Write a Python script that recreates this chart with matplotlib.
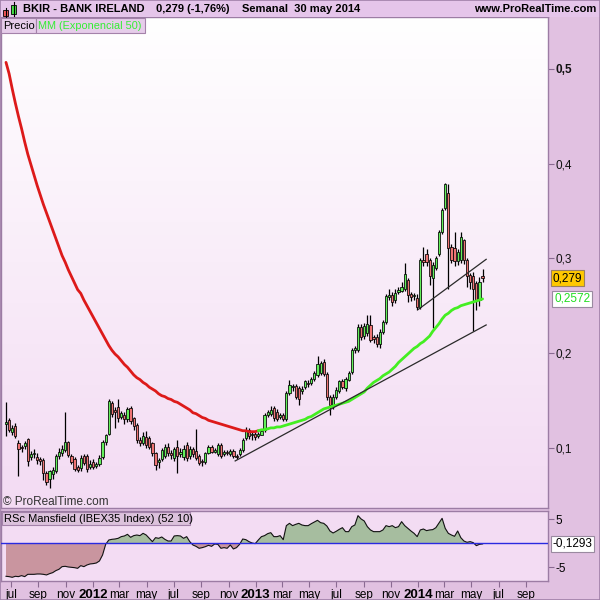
import numpy as np
import pandas as pd
import matplotlib
matplotlib.use("Agg")
import matplotlib.pyplot as plt
import matplotlib.dates as mdates
from matplotlib.patches import Rectangle
from matplotlib.colors import LinearSegmentedColormap

plt.rcParams['font.family'] = ['Liberation Sans', 'DejaVu Sans']

# ---------------- data (weekly candles, BKIR) ----------------
opens = [.125, .129, .117, .123, .105, .101, .102, .109, .090, .093,
         .090, .088, .087, .073, .067, .072, .075, .091, .094, .098,
         .106, .091, .088, .080, .079, .091, .091, .080, .085, .081,
         .083, .090, .106, .115, .147, .140, .143, .133, .135, .130,
         .142, .131, .124, .108, .105, .111, .110, .105, .094, .085,
         .088, .091, .101, .095, .089, .101, .093, .090, .103, .091,
         .099, .097, .091, .086, .085, .095, .101, .096, .093, .103,
         .093, .096, .093, .097, .091, .093, .098, .110, .119, .113,
         .115, .112, .114, .119, .135, .136, .142, .138, .133, .135,
         .130, .158, .164, .165, .163, .160, .164, .168, .168, .173,
         .177, .179, .191, .178, .154, .145, .154, .160, .171, .163,
         .172, .180, .203, .203, .228, .218, .221, .230, .217, .217,
         .210, .222, .233, .259, .261, .256, .265, .266, .268, .277,
         .262, .260, .258, .249, .298, .305, .298, .279, .290, .305,
         .328, .353, .369, .312, .311, .297, .298, .319, .298, .282,
         .281, .274, .256, .281]
highs = [.148, .131, .124, .126, .108, .103, .107, .110, .097, .099,
         .094, .090, .089, .075, .077, .080, .093, .100, .103, .138,
         .107, .093, .090, .082, .092, .093, .093, .087, .088, .085,
         .092, .108, .115, .151, .149, .143, .151, .139, .138, .143,
         .144, .133, .126, .111, .117, .118, .112, .106, .096, .089,
         .100, .104, .105, .098, .101, .108, .100, .103, .106, .102,
         .101, .120, .093, .088, .096, .103, .103, .100, .105, .105,
         .098, .098, .099, .099, .093, .100, .110, .122, .121, .117,
         .117, .117, .120, .137, .140, .144, .144, .141, .137, .137,
         .160, .172, .167, .167, .165, .165, .172, .172, .175, .181,
         .197, .192, .194, .180, .156, .157, .164, .172, .173, .175,
         .181, .205, .208, .231, .231, .232, .240, .240, .219, .220,
         .225, .235, .262, .268, .264, .268, .270, .275, .295, .279,
         .264, .263, .262, .300, .312, .310, .300, .296, .303, .330,
         .353, .380, .379, .315, .328, .310, .328, .320, .300, .285,
         .286, .276, .280, .289]
lows = [.112, .117, .113, .110, .070, .096, .099, .081, .087, .089,
        .083, .082, .066, .061, .058, .067, .073, .088, .091, .096,
        .090, .083, .076, .074, .076, .082, .074, .078, .078, .079,
        .081, .088, .103, .113, .133, .121, .127, .130, .125, .127,
        .125, .119, .105, .102, .103, .100, .099, .091, .077, .079,
        .086, .089, .091, .088, .086, .073, .090, .087, .086, .088,
        .090, .087, .082, .081, .083, .093, .094, .094, .091, .089,
        .091, .092, .091, .089, .088, .091, .096, .108, .109, .108,
        .108, .110, .113, .117, .133, .134, .128, .128, .130, .128,
        .128, .156, .160, .151, .145, .157, .162, .164, .166, .171,
        .175, .177, .176, .150, .135, .141, .151, .158, .162, .160,
        .170, .178, .200, .201, .214, .215, .218, .212, .211, .206,
        .205, .220, .231, .256, .250, .253, .262, .264, .266, .254,
        .255, .256, .246, .247, .292, .292, .272, .226, .288, .302,
        .326, .351, .268, .295, .292, .293, .295, .294, .270, .268,
        .223, .245, .250, .275]
closes = [.127, .119, .121, .112, .099, .100, .105, .086, .093, .095,
          .087, .086, .073, .064, .075, .077, .091, .096, .099, .106,
          .092, .085, .078, .077, .089, .084, .078, .083, .080, .083,
          .089, .106, .113, .149, .136, .138, .131, .137, .130, .141,
          .128, .123, .108, .105, .112, .103, .101, .094, .082, .087,
          .098, .101, .094, .092, .099, .091, .096, .099, .089, .099,
          .093, .089, .084, .085, .094, .101, .096, .098, .103, .091,
          .096, .094, .097, .091, .090, .098, .108, .119, .112, .115,
          .111, .115, .118, .135, .138, .140, .131, .130, .135, .130,
          .158, .166, .165, .154, .152, .162, .170, .167, .173, .179,
          .188, .189, .178, .154, .145, .154, .161, .170, .164, .173,
          .179, .203, .205, .228, .217, .229, .231, .214, .215, .210,
          .222, .233, .260, .261, .254, .263, .266, .270, .284, .261,
          .259, .261, .249, .298, .296, .296, .281, .293, .300, .328,
          .351, .379, .311, .298, .297, .307, .323, .298, .281, .275,
          .268, .256, .275, .279]
ema50 = [.507, .495, .479, .464, .450, .437, .423, .410, .399, .388,
         .377, .367, .357, .348, .339, .330, .321, .312, .303, .296,
         .288, .281, .274, .267, .263, .256, .250, .244, .238, .232,
         .226, .220, .214, .208, .203, .199, .196, .192, .188, .185,
         .181, .177, .174, .172, .169, .167, .164, .162, .160, .157,
         .155, .154, .152, .151, .149, .148, .146, .144, .142, .140,
         .137, .136, .134, .132, .131, .129, .128, .127, .126, .125,
         .124, .123, .122, .121, .120, .119, .118, .118, .117, .117,
         .117, .118, .119, .119, .120, .121, .121, .122, .122, .123,
         .124, .125, .126, .127, .128, .129, .130, .132, .133, .135,
         .137, .139, .141, .142, .143, .144, .145, .146, .147, .148,
         .149, .151, .153, .155, .157, .159, .163, .166, .169, .171,
         .173, .176, .178, .180, .183, .186, .190, .193, .196, .199,
         .202, .205, .207, .210, .212, .215, .218, .223, .227, .231,
         .236, .240, .242, .245, .247, .248, .250, .251, .252, .253,
         .254, .255, .256, .2572]
rsc = [-6.87, -6.94, -7.08, -6.87, -6.94, -6.73, -6.94, -6.46, -6.46, -6.46,
       -6.39, -6.39, -6.46, -6.59, -6.32, -6.11, -5.69, -5.41, -4.86, -4.79,
       -4.93, -5.00, -5.07, -5.21, -4.65, -4.86, -4.51, -4.30, -4.23, -4.10,
       -3.68, -2.43, -0.21, 0.69, 0.83, 0.90, 1.04, 1.39, 1.53, 1.87,
       1.25, 1.60, 1.73, 1.60, 2.08, 1.73, 1.04, 0.35, 1.18, 1.04,
       1.32, 0.83, 0.48, 0.48, 1.53, 1.60, 1.53, 1.04, 1.39, 0.35,
       -0.35, -0.63, -1.04, -0.90, -0.70, -0.42, -0.63, -0.14, -0.21, -1.04,
       -0.90, -1.04, -0.35, -1.18, -0.90, -0.21, 0.90, 0.76, 0.35, 0.07,
       -0.07, 0.69, 1.39, 1.60, 2.01, 2.22, 1.39, 1.39, 1.60, 0.76,
       3.68, 4.16, 3.68, 3.95, 4.16, 3.82, 3.68, 3.68, 4.09, 4.44,
       4.79, 4.30, 4.16, 3.61, 2.57, 2.15, 2.50, 2.91, 3.26, 2.43,
       2.43, 3.47, 3.82, 5.76, 5.07, 4.65, 3.47, 2.78, 2.43, 2.43,
       2.43, 2.78, 3.68, 3.47, 3.68, 3.26, 3.47, 4.51, 3.68, 3.12,
       2.57, 2.08, 1.39, 2.78, 2.98, 2.64, 2.78, 2.85, 3.26, 4.23,
       5.20, 3.12, 2.08, 1.73, 1.46, 2.57, 1.18, 0.48, 0.21, 0.35,
       0.14, -0.49, -0.21, -0.1293]
trend_low_dates = ['2012-11-16', '2014-06-03']
trend_low_vals = [0.0861, 0.2297]
trend_high_dates = ['2014-01-02', '2014-06-03']
trend_high_vals = [0.2463, 0.2990]
price_ticks = [0.1, 0.2, 0.3, 0.4, 0.5]
price_tick_labels = ['0,1', '0,2', '0,3', '0,4', '0,5']
rsc_ticks = [-5, 5]
rsc_tick_labels = ['-5', '5']
month_names = {3: 'mar', 5: 'may', 7: 'jul', 9: 'sep', 11: 'nov'}

dates = pd.date_range(end='2014-05-26', periods=len(closes), freq='7D')

# ---------------- figure ----------------
BG = '#e1c1e1'
SPINE = '#9c7ca4'
fig = plt.figure(figsize=(6, 6), dpi=100, facecolor=BG)


def fx(px):
    return px / 600.0


def fy(py):
    return 1 - py / 600.0


ax = fig.add_axes([fx(1), fy(508), fx(547), (508 - 17) / 600.0])
axs = fig.add_axes([fx(1), fy(581), fx(547), 70 / 600.0], sharex=ax)

dn = mdates.date2num(dates)
o = np.array(opens); h = np.array(highs); l = np.array(lows); c = np.array(closes)
d0 = dn[0]
PXD = 0.445
xmin = d0 - 5.0 / PXD
xmax = xmin + 547 / PXD

# gradient background
cmap = LinearSegmentedColormap.from_list('bg', ['#ffffff', '#f3dbf3'])
grad = np.linspace(0, 1, 256).reshape(-1, 1)
ax.imshow(grad, extent=[0, 1, 0, 1], transform=ax.transAxes, aspect='auto',
          cmap=cmap, zorder=0)
axs.set_facecolor('#f3dcf3')

# candles
up = c >= o
ax.vlines(dn, l, h, color='black', lw=0.9, zorder=3)
bb = np.minimum(o, c)
bh = np.maximum(np.abs(c - o), 0.0012)
ax.bar(dn[up], bh[up], bottom=bb[up], width=5.0, color='#62f05a',
       edgecolor='black', linewidth=0.55, zorder=4)
ax.bar(dn[~up], bh[~up], bottom=bb[~up], width=5.0, color='#ee7474',
       edgecolor='black', linewidth=0.55, zorder=4)

# EMA
ema = np.array(ema50)
k = 81
ax.plot(dn[:k + 1], ema[:k + 1], color='#dd1a1a', lw=2.0, zorder=5,
        solid_capstyle='round')
ax.plot(dn[k:], ema[k:], color='#44ee22', lw=2.0, zorder=5,
        solid_capstyle='round')

# trend lines
ax.plot(mdates.date2num(pd.to_datetime(trend_low_dates)), trend_low_vals,
        color='#2a2a2a', lw=0.9, zorder=6)
ax.plot(mdates.date2num(pd.to_datetime(trend_high_dates)), trend_high_vals,
        color='#2a2a2a', lw=0.9, zorder=6)

ax.set_xlim(xmin, xmax)
ax.set_ylim(0.0364, 0.5549)

# right price axis
ax.yaxis.tick_right()
ax.set_yticks(price_ticks)
ax.set_yticklabels(price_tick_labels)
ax.tick_params(axis='y', direction='out', length=4, width=0.8, color='#8a6a92',
               labelsize=8.5, pad=1.5, labelcolor='#111111')
for t in ax.get_yticklabels():
    if t.get_text() == '0,5':
        t.set_fontweight('bold')
ax.tick_params(axis='x', bottom=False, labelbottom=False)
for s in ax.spines.values():
    s.set_color(SPINE)
    s.set_linewidth(1.0)

ytr = ax.get_yaxis_transform()
ax.text(1.008, 0.279, '0,279', transform=ytr, ha='left', va='center',
        fontsize=8.5, color='black', zorder=10, clip_on=False,
        bbox=dict(boxstyle='square,pad=0.15', fc='#ffc800', ec='#9a8060', lw=0.8))
ax.text(1.011, 0.2572, '0,2572', transform=ytr, ha='left', va='center',
        fontsize=8.5, color='#22dd22', zorder=10, clip_on=False,
        bbox=dict(boxstyle='square,pad=0.15', fc='white', ec='#9a8aa0', lw=0.8))

# RSc panel
r = np.array(rsc)
axs.fill_between(dn, r, 0, where=r >= 0, interpolate=True, color='#a6bd9f',
                 zorder=2, lw=0)
axs.fill_between(dn, r, 0, where=r <= 0, interpolate=True, color='#c9959f',
                 zorder=2, lw=0)
axs.plot(dn, r, color='#111111', lw=0.8, zorder=3)
axs.axhline(0, color='#2a2ae0', lw=1.0, zorder=4)
axs.set_ylim(-7.85, 6.73)
axs.yaxis.tick_right()
axs.set_yticks(rsc_ticks)
axs.set_yticklabels(rsc_tick_labels)
axs.tick_params(axis='y', direction='out', length=4, width=0.8, color='#8a6a92',
                labelsize=8.5, pad=1.5)
for s in axs.spines.values():
    s.set_color(SPINE)
    s.set_linewidth(1.0)
axs.text(1.008, -0.1293, '-0,1293', transform=axs.get_yaxis_transform(),
         ha='left', va='center', fontsize=8.5, color='black', clip_on=False,
         bbox=dict(boxstyle='square,pad=0.15', fc='white', ec='#9a8aa0', lw=0.8))

# x ticks: every two months
tick_dates = pd.date_range('2011-07-01', '2014-09-01', freq='2MS')
labels = []
for d in tick_dates:
    labels.append(str(d.year) if d.month == 1 else month_names[d.month])
axs.set_xticks(mdates.date2num(tick_dates))
axs.set_xticklabels(labels)
axs.tick_params(axis='x', direction='out', length=4, width=0.8, color='#8a6a92',
                labelsize=8.5, pad=1.5)
for t in axs.get_xticklabels():
    if t.get_text().isdigit():
        t.set_fontweight('bold')
        t.set_fontsize(9.5)
axs.set_xlim(xmin, xmax)

# ---------------- header & legends ----------------
fig.patches.append(Rectangle((0, fy(17)), 1, 17 / 600.0, transform=fig.transFigure,
                             fc='#e5c5ea', ec='none', zorder=0))
# icon
fig.add_artist(plt.Line2D([fx(5.5), fx(5.5)], [fy(8), fy(18)], color='black', lw=0.8))
fig.patches.append(Rectangle((fx(3), fy(16)), fx(5), 6 / 600.0, transform=fig.transFigure,
                             fc='#ee5555', ec='black', lw=0.6))
fig.add_artist(plt.Line2D([fx(13.5), fx(13.5)], [fy(2), fy(16)], color='black', lw=0.8))
fig.patches.append(Rectangle((fx(11), fy(14)), fx(5), 9 / 600.0, transform=fig.transFigure,
                             fc='#44dd44', ec='black', lw=0.6))

fig.text(fx(23), fy(9), 'BKIR - BANK IRELAND', fontsize=8.0, fontweight='bold',
         ha='left', va='center')
fig.text(fx(156), fy(9), '0,279 (-1,76%)', fontsize=8.0, fontweight='bold',
         ha='left', va='center')
fig.text(fx(242), fy(9), 'Semanal  30 may 2014', fontsize=8.0, fontweight='bold',
         ha='left', va='center')
fig.text(fx(596), fy(9), 'www.ProRealTime.com', fontsize=8.0, fontweight='bold',
         ha='right', va='center')

# legend boxes
fig.patches.append(Rectangle((fx(1), fy(33)), fx(35), 15 / 600.0, transform=fig.transFigure,
                             fc='#e6cdea', ec='#a482aa', lw=0.8, zorder=5))
fig.patches.append(Rectangle((fx(36), fy(33)), fx(109), 15 / 600.0, transform=fig.transFigure,
                             fc='#e6cdea', ec='#a482aa', lw=0.8, zorder=5))
fig.text(fx(3), fy(26), 'Precio', fontsize=8.0, ha='left', va='center', zorder=6)
fig.text(fx(38.5), fy(26), 'MM (Exponencial 50)', fontsize=7.8, ha='left', va='center',
         color='#33ee33', zorder=6)
fig.patches.append(Rectangle((fx(2), fy(525)), fx(188), 13 / 600.0, transform=fig.transFigure,
                             fc='#dcc2dc', ec='#a482aa', lw=0.8, zorder=5))
fig.text(fx(4), fy(518.5), 'RSc Mansfield (IBEX35 Index) (52 10)', fontsize=8.0,
         ha='left', va='center', zorder=6)
fig.text(fx(3), fy(502), '\u00a9 ProRealTime.com', fontsize=8.5, ha='left', va='center',
         color='#333333')

# outer frame
fig.patches.append(Rectangle((0, 0), 1, 1, transform=fig.transFigure, fc='none',
                             ec='#a080a8', lw=1.2, zorder=10))

fig.savefig('out.png', dpi=100, facecolor=BG)
